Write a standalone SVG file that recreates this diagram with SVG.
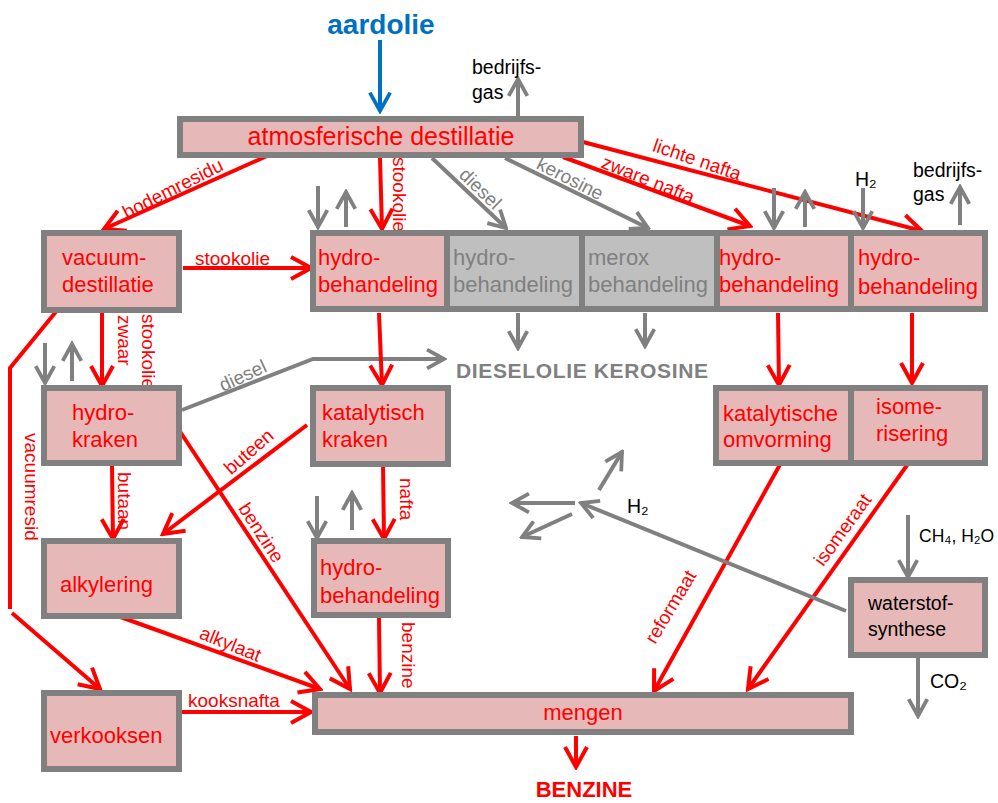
<svg xmlns="http://www.w3.org/2000/svg" width="998" height="803" viewBox="0 0 998 803">
<style>
.box{fill:#e6b8b7;stroke:#808080;stroke-width:6}
.gbox{fill:#bfbfbf;stroke:#808080;stroke-width:6}
.r{stroke:#ff0000;stroke-width:4;fill:none}
.g{stroke:#808080;stroke-width:4;fill:none}
.b{stroke:#0070c0;stroke-width:4;fill:none}
.ra{marker-end:url(#ar)}
.ga{marker-end:url(#ag)}
text{font-family:"Liberation Sans",Arial,sans-serif}
.t{font-size:22px;fill:#ff0000}
.tg{font-size:22px;fill:#808080}
.tk{font-size:19.5px;fill:#000000}
.l{font-size:19px;fill:#ff0000}
.lg{font-size:19px;fill:#808080}
</style>
<defs>
<marker id="ar" viewBox="0 0 26 26" refX="23" refY="13" markerWidth="26" markerHeight="26" markerUnits="userSpaceOnUse" orient="auto"><path d="M3,2 L23,13 L3,24" fill="none" stroke="#ff0000" stroke-width="4"/></marker>
<marker id="ag" viewBox="0 0 26 26" refX="23" refY="13" markerWidth="22" markerHeight="22" markerUnits="userSpaceOnUse" orient="auto"><path d="M3,2 L23,13 L3,24" fill="none" stroke="#808080" stroke-width="4.5"/></marker>
<marker id="ab" viewBox="0 0 26 26" refX="23" refY="13" markerWidth="24" markerHeight="24" markerUnits="userSpaceOnUse" orient="auto"><path d="M3,2 L23,13 L3,24" fill="none" stroke="#0070c0" stroke-width="4"/></marker>
</defs>

<g id="connectors">
  <line class="b" x1="380" y1="40" x2="380" y2="111" marker-end="url(#ab)"/>
  <line class="g ga" x1="518" y1="116" x2="518" y2="79"/>
  <line class="r ra" x1="267" y1="156" x2="104" y2="229"/>
  <line class="r ra" x1="380" y1="158" x2="382" y2="229"/>
  <line class="g ga" x1="432" y1="158" x2="506" y2="228"/>
  <line class="g ga" x1="505" y1="158" x2="648" y2="228"/>
  <line class="r ra" x1="563" y1="157" x2="750" y2="226"/>
  <line class="r ra" x1="583" y1="142" x2="922" y2="231"/>
  <line class="g ga" x1="318" y1="186" x2="318" y2="227"/>
  <line class="g ga" x1="346" y1="227" x2="346" y2="192"/>
  <line class="g ga" x1="774" y1="188" x2="774" y2="228"/>
  <line class="g ga" x1="805" y1="227" x2="805" y2="192"/>
  <line class="g ga" x1="863" y1="188" x2="863" y2="228"/>
  <line class="g ga" x1="960" y1="225" x2="960" y2="187"/>
  <line class="r ra" x1="183" y1="268" x2="311" y2="268"/>
  <line class="r ra" x1="102" y1="313" x2="102" y2="386"/>
  <polyline class="r" points="59,308 10,368 10,609"/>
  <line class="r ra" x1="12" y1="613" x2="100" y2="689"/>
  <line class="g ga" x1="45" y1="343" x2="45" y2="383"/>
  <line class="g ga" x1="72" y1="381" x2="72" y2="344"/>
  <polyline class="g ga" points="182,410 313,359 444,359"/>
  <line class="g ga" x1="518" y1="313" x2="518" y2="348"/>
  <line class="g ga" x1="645" y1="313" x2="645" y2="346"/>
  <line class="r ra" x1="379" y1="313" x2="382" y2="385"/>
  <line class="r ra" x1="778" y1="313" x2="779" y2="385"/>
  <line class="r ra" x1="912" y1="313" x2="912" y2="383"/>
  <line class="r ra" x1="112" y1="466" x2="113" y2="539"/>
  <line class="r ra" x1="177" y1="427" x2="350" y2="689"/>
  <line class="r ra" x1="307" y1="425" x2="163" y2="534"/>
  <line class="r ra" x1="383" y1="463" x2="384" y2="539"/>
  <line class="g ga" x1="317" y1="496" x2="317" y2="538"/>
  <line class="g ga" x1="352" y1="530" x2="352" y2="493"/>
  <line class="r ra" x1="115" y1="615" x2="320" y2="689"/>
  <line class="r ra" x1="379" y1="618" x2="380" y2="693"/>
  <line class="r ra" x1="182" y1="712" x2="311" y2="712"/>
  <line class="r ra" x1="782" y1="461" x2="654" y2="691"/>
  <line class="r ra" x1="910" y1="461" x2="748" y2="689"/>
  <line class="g ga" x1="846" y1="611" x2="581" y2="503"/>
  <line class="g ga" x1="575" y1="503" x2="512" y2="503"/>
  <line class="g ga" x1="572" y1="514" x2="522" y2="537"/>
  <line class="g ga" x1="599" y1="490" x2="622" y2="452"/>
  <line class="g ga" x1="908" y1="515" x2="908" y2="577"/>
  <line class="g ga" x1="918" y1="658" x2="918" y2="716"/>
  <line class="r ra" x1="576" y1="736" x2="576" y2="767"/>
</g>

<g id="labels">
  <text x="381" y="34" text-anchor="middle" style="font-size:28px;font-weight:bold;fill:#0070c0">aardolie</text>
  <text class="tk" x="472" y="74">bedrijfs-</text>
  <text class="tk" x="472" y="99">gas</text>
  <text class="tk" x="913" y="177">bedrijfs-</text>
  <text class="tk" x="913" y="201">gas</text>
  <text class="tk" x="855" y="186">H₂</text>
  <text class="l" transform="translate(173,189) rotate(-27)" x="0" y="6" text-anchor="middle">bodemresidu</text>
  <text class="l" transform="translate(393,157) rotate(90)">stookolie</text>
  <text class="lg" transform="translate(480,189) rotate(44)" x="0" y="6" text-anchor="middle">diesel</text>
  <text class="lg" transform="translate(570,179) rotate(27)" x="0" y="6" text-anchor="middle">kerosine</text>
  <text class="l" transform="translate(648,180) rotate(22)" x="0" y="6" text-anchor="middle">zware nafta</text>
  <text class="l" transform="translate(697,160) rotate(19)" x="0" y="6" text-anchor="middle">lichte nafta</text>
  <text class="l" x="195" y="265">stookolie</text>
  <text class="l" transform="translate(118,315) rotate(90)">zwaar</text>
  <text class="l" transform="translate(142,314) rotate(90)">stookolie</text>
  <text class="l" transform="translate(25,433) rotate(90)">vacuumresid</text>
  <text class="lg" transform="translate(243,376) rotate(-25)" x="0" y="6" text-anchor="middle">diesel</text>
  <text x="456" y="378" textLength="252" lengthAdjust="spacing" style="font-size:21px;font-weight:bold;fill:#808080">DIESELOLIE KEROSINE</text>
  <text class="l" transform="translate(118,472) rotate(90)">butaan</text>
  <text class="l" transform="translate(249,452) rotate(-41)" x="0" y="6" text-anchor="middle">buteen</text>
  <text class="l" transform="translate(261,533) rotate(57)" x="0" y="6" text-anchor="middle">benzine</text>
  <text class="l" transform="translate(400,478) rotate(90)">nafta</text>
  <text class="l" transform="translate(228,650) rotate(22)" x="0" y="0" text-anchor="middle">alkylaat</text>
  <text class="l" transform="translate(402,622) rotate(90)">benzine</text>
  <text class="l" x="188" y="707">kooksnafta</text>
  <text class="l" transform="translate(671,607) rotate(-59)" x="0" y="6" text-anchor="middle">reformaat</text>
  <text class="l" transform="translate(843,530) rotate(-54)" x="0" y="6" text-anchor="middle">isomeraat</text>
  <text class="tk" x="627" y="513">H₂</text>
  <text x="919" y="542" style="font-size:17.5px;fill:#000000">CH₄, H₂O</text>
  <text class="tk" x="930" y="688">CO₂</text>
  <text x="584" y="797" text-anchor="middle" style="font-size:22px;font-weight:bold;fill:#ff0000">BENZINE</text>
</g>

<g id="atmosferische-destillatie">
  <rect class="box" x="180" y="119" width="401" height="36"/>
  <text class="t" x="381" y="145" text-anchor="middle" style="font-size:25px">atmosferische destillatie</text>
</g>
<g id="vacuum-destillatie">
  <rect class="box" x="44" y="233" width="135" height="77"/>
  <text class="t" x="62" y="265">vacuum-</text>
  <text class="t" x="62" y="292">destillatie</text>
</g>
<g id="hydrobehandeling-1">
  <rect class="box" x="313" y="233" width="134" height="76"/>
  <text class="t" x="318" y="265">hydro-</text>
  <text class="t" x="318" y="292">behandeling</text>
</g>
<g id="hydrobehandeling-grijs">
  <rect class="gbox" x="447" y="233" width="135" height="76"/>
  <text class="tg" x="453" y="265">hydro-</text>
  <text class="tg" x="453" y="292">behandeling</text>
</g>
<g id="merox-behandeling">
  <rect class="gbox" x="582" y="233" width="135" height="76"/>
  <text class="tg" x="588" y="265">merox</text>
  <text class="tg" x="588" y="292">behandeling</text>
</g>
<g id="hydrobehandeling-3">
  <rect class="box" x="717" y="233" width="134" height="76"/>
  <text class="t" x="719" y="265">hydro-</text>
  <text class="t" x="719" y="292">behandeling</text>
</g>
<g id="hydrobehandeling-4">
  <rect class="box" x="851" y="233" width="134" height="76"/>
  <text class="t" x="858" y="265">hydro-</text>
  <text class="t" x="858" y="294">behandeling</text>
</g>
<g id="hydrokraken">
  <rect class="box" x="44" y="388" width="135" height="75"/>
  <text class="t" x="72" y="420">hydro-</text>
  <text class="t" x="72" y="447">kraken</text>
</g>
<g id="katalytisch-kraken">
  <rect class="box" x="313" y="388" width="135" height="76"/>
  <text class="t" x="322" y="420">katalytisch</text>
  <text class="t" x="322" y="447">kraken</text>
</g>
<g id="katalytische-omvorming">
  <rect class="box" x="716" y="388" width="135" height="75"/>
  <text class="t" x="723" y="421">katalytische</text>
  <text class="t" x="723" y="447">omvorming</text>
</g>
<g id="isomerisering">
  <rect class="box" x="851" y="388" width="134" height="75"/>
  <text class="t" x="876" y="414">isome-</text>
  <text class="t" x="876" y="441">risering</text>
</g>
<g id="alkylering">
  <rect class="box" x="44" y="541" width="135" height="75"/>
  <text class="t" x="60" y="592">alkylering</text>
</g>
<g id="hydrobehandeling-2">
  <rect class="box" x="314" y="541" width="134" height="74"/>
  <text class="t" x="320" y="575">hydro-</text>
  <text class="t" x="320" y="603">behandeling</text>
</g>
<g id="waterstofsynthese">
  <rect class="box" x="851" y="580" width="134" height="75"/>
  <text class="tk" x="868" y="610">waterstof-</text>
  <text class="tk" x="868" y="636">synthese</text>
</g>
<g id="mengen">
  <rect class="box" x="315" y="695" width="536" height="37"/>
  <text class="t" x="583" y="720" text-anchor="middle">mengen</text>
</g>
<g id="verkooksen">
  <rect class="box" x="44" y="693" width="135" height="76"/>
  <text class="t" x="50" y="743">verkooksen</text>
</g>
</svg>
